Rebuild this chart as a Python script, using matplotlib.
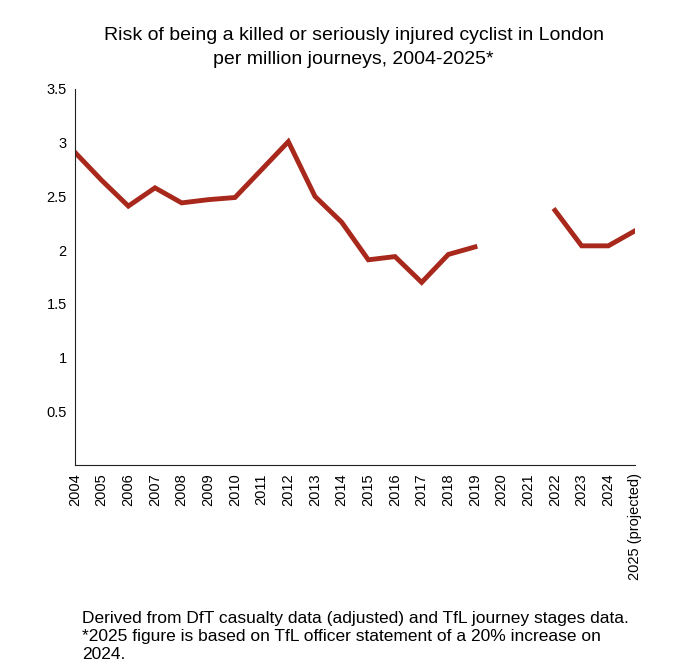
import numpy as np
import matplotlib
matplotlib.use("Agg")
import matplotlib.pyplot as plt

plt.rcParams['font.family'] = ['Liberation Sans', 'DejaVu Sans']

years = ["2004", "2005", "2006", "2007", "2008", "2009", "2010", "2011",
         "2012", "2013", "2014", "2015", "2016", "2017", "2018", "2019",
         "2020", "2021", "2022", "2023", "2024", "2025 (projected)"]
risk = [2.91, 2.65, 2.41, 2.58, 2.44, 2.47, 2.49, 2.75,
        3.01, 2.50, 2.26, 1.91, 1.94, 1.70, 1.96, 2.03,
        np.nan, np.nan, 2.37, 2.04, 2.04, 2.18]
y_ticks = [0.5, 1, 1.5, 2, 2.5, 3, 3.5]
y_labels = ["0.5", "1", "1.5", "2", "2.5", "3", "3.5"]

fig = plt.figure(figsize=(6.8, 6.68), dpi=100)
ax = fig.add_axes([75 / 680, 1 - 465 / 668, 560 / 680, 376 / 668])

x = np.arange(len(years))
ax.plot(x, risk, color="#a8281c", linewidth=3.5, solid_joinstyle="miter")

ax.set_xlim(0, len(years) - 1)
ax.set_ylim(0, 3.5)
ax.set_xticks(x)
ax.set_xticklabels(years, rotation=90, fontsize=10.5, va="top")
ax.set_yticks(y_ticks)
ax.set_yticklabels(y_labels, fontsize=10.5)
ax.tick_params(length=0, pad=6)
ax.spines["top"].set_visible(False)
ax.spines["right"].set_visible(False)
ax.spines["left"].set_color("#222222")
ax.spines["bottom"].set_color("#222222")

fig.text(0.52, 1 - 35 / 668, "Risk of being a killed or seriously injured cyclist in London",
         ha="center", va="center", fontsize=14)
fig.text(0.52, 1 - 60 / 668, "per million journeys, 2004-2025*",
         ha="center", va="center", fontsize=14)
fig.text(82 / 680, 1 - 611 / 668,
         "Derived from DfT casualty data (adjusted) and TfL journey stages data.\n"
         "*2025 figure is based on TfL officer statement of a 20% increase on\n2024.",
         ha="left", va="top", fontsize=12.5, linespacing=1.25)

fig.savefig("out.png", dpi=100)
